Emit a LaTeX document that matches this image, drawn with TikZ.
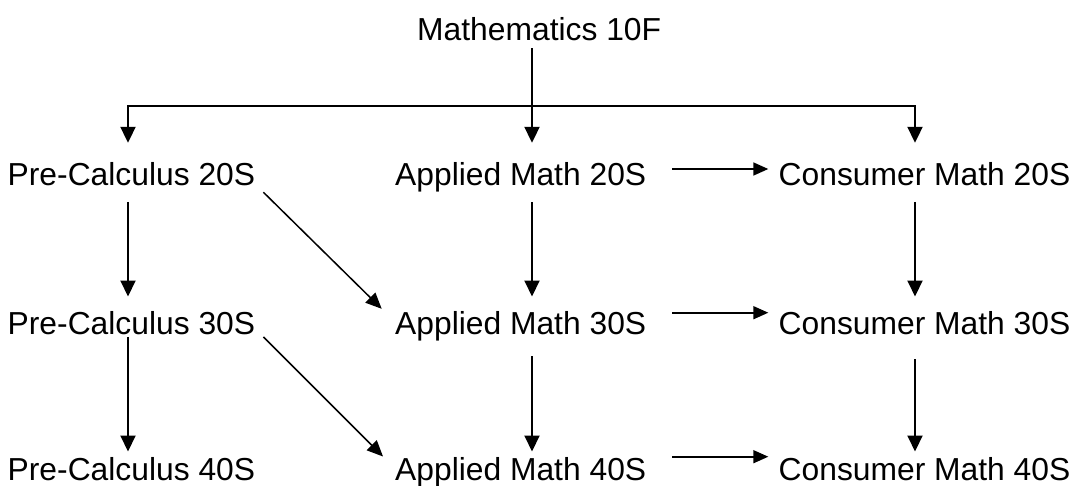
\documentclass[tikz,border=0pt]{standalone}
\usepackage{fontspec}
\setmainfont{Liberation Sans}
\usetikzlibrary{arrows.meta,calc}
\begin{document}
\begin{tikzpicture}[x=1pt,y=-1pt,
  lbl/.style={anchor=base west,inner sep=0pt,text height=23pt,text depth=7pt,
    font=\fontsize{31.8}{38}\selectfont},
  ln/.style={line width=2pt},
  arr/.style={line width=2pt,-{Triangle[length=16pt,width=15pt]}},
  harr/.style={line width=1.6pt,-{Triangle[length=15pt,width=13pt]}},
  darr/.style={line width=1.5pt,-{Triangle[length=16pt,width=14pt]}}]
\useasboundingbox (0,0) rectangle (1075,485);
% nodes
\node[lbl] (m10) at (417,40) {Mathematics 10F};
\node[lbl] (pc20) at (7.5,185) {Pre-Calculus 20S};
\node[lbl] (am20) at (395,185) {Applied Math 20S};
\node[lbl] (cm20) at (778.5,185) {Consumer Math 20S};
\node[lbl] (pc30) at (7.5,334) {Pre-Calculus 30S};
\node[lbl] (am30) at (395,334) {Applied Math 30S};
\node[lbl] (cm30) at (778.5,334) {Consumer Math 30S};
\node[lbl] (pc40) at (7.5,480) {Pre-Calculus 40S};
\node[lbl] (am40) at (395,480) {Applied Math 40S};
\node[lbl] (cm40) at (778.5,480) {Consumer Math 40S};
% bus
\coordinate (bus) at (532,106);
\coordinate (busL) at (128,106);
\coordinate (busR) at (915,106);
\coordinate (colA) at (128,0);
\coordinate (colB) at (532,0);
\coordinate (colC) at (915,0);
\draw[ln] ($(m10.south -| bus)+(0,1)$) -- (bus);
\draw[ln] ([xshift=-1pt]busL) -- ([xshift=1pt]busR);
\draw[arr,shorten >=19pt] (busL) -- (pc20.north -| busL);
\draw[arr,shorten >=19pt] (bus) -- (am20.north -| bus);
\draw[arr,shorten >=19pt] (busR) -- (cm20.north -| busR);
% row 1 -> row 2
\draw[arr,shorten <=9.7pt,shorten >=14.3pt] (pc20.south -| colA) -- (pc30.north -| colA);
\draw[arr,shorten <=10pt,shorten >=14.3pt] (am20.south -| colB) -- (am30.north -| colB);
\draw[arr,shorten <=9.7pt,shorten >=14.3pt] (cm20.south -| colC) -- (cm30.north -| colC);
% row 2 -> row 3
\draw[arr,shorten <=-4.3pt,shorten >=5.3pt] (pc30.south -| colA) -- (pc40.north -| colA);
\draw[arr,shorten <=15pt,shorten >=5.3pt] (am30.south -| colB) -- (am40.north -| colB);
\draw[arr,shorten <=18pt,shorten >=5.3pt] (cm30.south -| colC) -- (cm40.north -| colC);
% diagonals
\draw[darr] ($(pc20.south east)+(8,0)$) -- ($(am30.north west)+(-13.3,-2)$);
\draw[darr] ($(pc30.south east)+(8,-4.3)$) -- ($(am40.north west)+(-12,-0.3)$);
% horizontals
\draw[harr] ($(am20.east)+(25.7,-8)$) -- ($(cm20.west)+(-10.2,-8)$);
\draw[harr] ($(am30.east)+(25.7,-13.3)$) -- ($(cm30.west)+(-10.2,-13.3)$);
\draw[harr] ($(am40.east)+(25.7,-15.3)$) -- ($(cm40.west)+(-10.2,-15.3)$);
\end{tikzpicture}
\end{document}
